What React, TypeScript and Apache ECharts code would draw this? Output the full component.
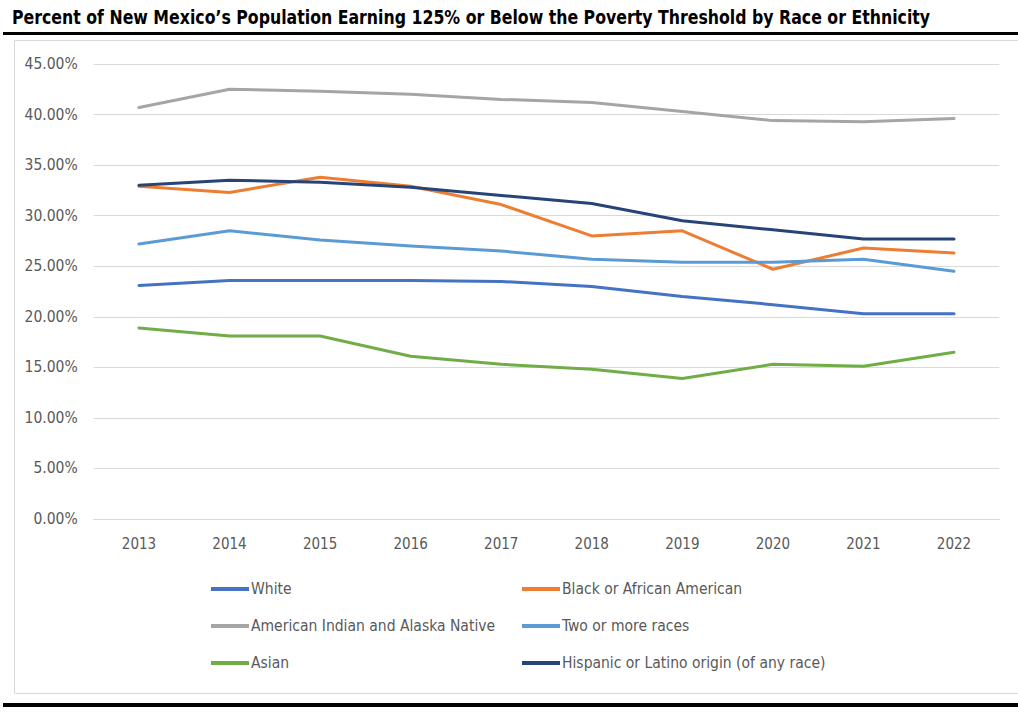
import React, { useEffect, useRef } from "react";
import * as echarts from "echarts";

const years = ["2013", "2014", "2015", "2016", "2017", "2018", "2019", "2020", "2021", "2022"];
const white = [23.1, 23.6, 23.6, 23.6, 23.5, 23.0, 22.0, 21.2, 20.3, 20.3];
const black = [32.9, 32.3, 33.8, 32.9, 31.1, 28.0, 28.5, 24.7, 26.8, 26.3];
const amIndian = [40.7, 42.5, 42.3, 42.0, 41.5, 41.2, 40.3, 39.4, 39.3, 39.6];
const twoOrMore = [27.2, 28.5, 27.6, 27.0, 26.5, 25.7, 25.4, 25.4, 25.7, 24.5];
const asian = [18.9, 18.1, 18.1, 16.1, 15.3, 14.8, 13.9, 15.3, 15.1, 16.5];
const hispanic = [33.0, 33.5, 33.3, 32.8, 32.0, 31.2, 29.5, 28.6, 27.7, 27.7];

const seriesNames = [
  "White",
  "Black or African American",
  "American Indian and Alaska Native",
  "Two or more races",
  "Asian",
  "Hispanic or Latino origin (of any race)",
];
const seriesData = [white, black, amIndian, twoOrMore, asian, hispanic];
const seriesColors = ["#4472C4", "#ED7D31", "#A5A5A5", "#5B9BD5", "#70AD47", "#264478"];

const titleText =
  "Percent of New Mexico\u2019s Population Earning 125% or Below the Poverty Threshold by Race or Ethnicity";

const FONT = "'DejaVu Sans Condensed', 'Noto Sans', sans-serif";
const TITLE_FONT = "bold 20px 'DejaVu Sans Condensed', 'Noto Sans', sans-serif";

export default function App() {
  const ref = useRef<HTMLDivElement>(null);
  useEffect(() => {
    document.body.style.margin = "0";
    const canvas = document.createElement("canvas");
    const ctx = canvas.getContext("2d")!;
    ctx.font = TITLE_FONT;
    const w = ctx.measureText(titleText).width || 1050;
    const titleScale = Math.min(1, 918 / w);

    const chart = echarts.init(ref.current!, null, { renderer: "svg" });
    const legendPos = [
      [211, 589],
      [522, 589],
      [211, 626],
      [522, 626],
      [211, 663],
      [522, 663],
    ];
    chart.setOption({
      animation: false,
      backgroundColor: "#ffffff",
      textStyle: { fontFamily: FONT },
      grid: { left: 93.7, right: 18.7, top: 64, bottom: 197, containLabel: false },
      xAxis: {
        type: "category",
        data: years,
        boundaryGap: true,
        axisLine: { show: true, lineStyle: { color: "#D9D9D9", width: 1 } },
        axisTick: { show: false },
        axisLabel: { color: "#595959", fontSize: 15, fontFamily: FONT, margin: 17 },
      },
      yAxis: {
        type: "value",
        min: 0,
        max: 45,
        interval: 5,
        axisLine: { show: false },
        axisTick: { show: false },
        splitLine: { lineStyle: { color: "#D9D9D9", width: 1 } },
        axisLabel: {
          color: "#595959",
          fontSize: 15.5,
          fontFamily: FONT,
          margin: 16,
          formatter: (v: number) => v.toFixed(2) + "%",
        },
      },
      legend: seriesNames.map((n, i) => ({
        data: [n],
        left: legendPos[i][0],
        top: legendPos[i][1] - 9,
        padding: 0,
        icon: "rect",
        itemWidth: 38,
        itemHeight: 4,
        itemGap: 0,
        textStyle: { color: "#595959", fontSize: 15.5, fontFamily: FONT, lineHeight: 18, padding: [0, 0, 0, -3] },
      })),
      series: seriesNames.map((n, i) => ({
        name: n,
        type: "line",
        data: seriesData[i],
        symbol: "none",
        color: seriesColors[i],
        lineStyle: { width: 3, color: seriesColors[i], cap: "round", join: "round" },
      })),
      graphic: [
        {
          type: "text",
          x: 12,
          y: 7,
          scaleX: titleScale,
          style: { text: titleText, fill: "#000000", font: TITLE_FONT },
        },
        {
          type: "rect",
          shape: { x: 3, y: 32, width: 1015, height: 3 },
          style: { fill: "#000000" },
        },
        {
          type: "rect",
          shape: { x: 14.5, y: 40.5, width: 1010, height: 653 },
          style: { fill: "none", stroke: "#D9D9D9", lineWidth: 1 },
          z: -1,
        },
        {
          type: "rect",
          shape: { x: 3, y: 703, width: 1015, height: 4 },
          style: { fill: "#000000" },
        },
      ],
    });
    return () => chart.dispose();
  }, []);
  return <div ref={ref} style={{ position: "absolute", left: 0, top: 0, width: 1018, height: 716 }} />;
}
